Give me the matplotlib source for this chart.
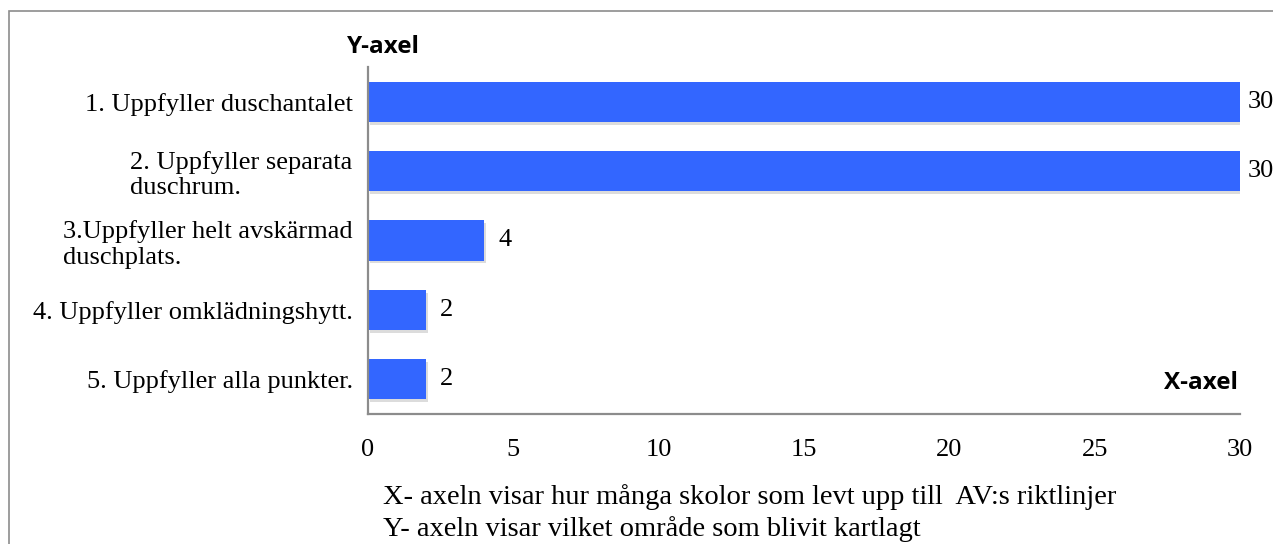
import matplotlib
matplotlib.use("Agg")
import matplotlib.pyplot as plt
import matplotlib.patheffects as pe
from matplotlib.patches import Rectangle

categories = [
    "1. Uppfyller duschantalet",
    "2. Uppfyller separata\nduschrum.",
    "3.Uppfyller helt avskärmad\nduschplats.",
    "4. Uppfyller omklädningshytt.",
    "5. Uppfyller alla punkter.",
]
values = [30, 30, 4, 2, 2]
x_ticks = [0, 5, 10, 15, 20, 25, 30]
notes = [
    "X- axeln visar hur många skolor som levt upp till  AV:s riktlinjer",
    "Y- axeln visar vilket område som blivit kartlagt",
]

SERIF = ["Liberation Serif", "DejaVu Serif"]
SANS = ["Open Sans", "DejaVu Sans"]
BAR = "#3366FF"
GREY = "#8c8c8c"

fig = plt.figure(figsize=(12.73, 5.44), dpi=100)
fig.patch.set_facecolor("white")

# outer frame (runs off the right and bottom edge)
fig.patches.append(Rectangle((9 / 1273, -0.05), 1.1, 1 - 11 / 544 + 0.05,
                             transform=fig.transFigure, fill=False,
                             edgecolor=GREY, linewidth=1.2, clip_on=False))

ax = fig.add_axes([368 / 1273, 1 - 414 / 544, (1240 - 368) / 1273, (414 - 67) / 544])
y = list(range(len(categories)))
bars = ax.barh(y, values, height=0.58, color=BAR, linewidth=0)
for b in bars:
    b.set_path_effects([pe.SimplePatchShadow(offset=(1.5, -2), shadow_rgbFace="#777777", alpha=0.25),
                        pe.Normal()])

# value labels, centred a fixed distance past the bar end
for yi, v in zip(y, values):
    ax.annotate(str(v), (v, yi), xytext=(15, 0), textcoords="offset points",
                ha="center", va="center", fontsize=19, family=SERIF, annotation_clip=False)

ax.set_xlim(0, 30)
ax.set_ylim(len(categories) - 0.5, -0.5)
ax.set_xticks(x_ticks)
ax.set_xticklabels([str(t) for t in x_ticks], family=SERIF, fontsize=19)
ax.set_yticks(y)
ax.set_yticklabels(categories, family=SERIF, fontsize=19, multialignment="left",
                   linespacing=1.2)
ax.tick_params(axis="both", length=0)
ax.tick_params(axis="x", pad=18)
ax.tick_params(axis="y", pad=11)
for s in ["top", "right"]:
    ax.spines[s].set_visible(False)
for s in ["left", "bottom"]:
    ax.spines[s].set_color(GREY)
    ax.spines[s].set_linewidth(1.6)

fig.text(383 / 1273, 1 - 47 / 544, "Y-axel", ha="center", va="center",
         fontsize=17.5, fontweight="bold", family=SANS)
fig.text(1238 / 1273, 1 - 383 / 544, "X-axel", ha="right", va="center",
         fontsize=17.5, fontweight="bold", family=SANS)

fig.text(383 / 1273, 1 - 497 / 544, notes[0], ha="left", va="center",
         fontsize=20.5, family=SERIF)
fig.text(383 / 1273, 1 - 529 / 544, notes[1], ha="left", va="center",
         fontsize=20.5, family=SERIF)

fig.savefig("out.png", dpi=100)
